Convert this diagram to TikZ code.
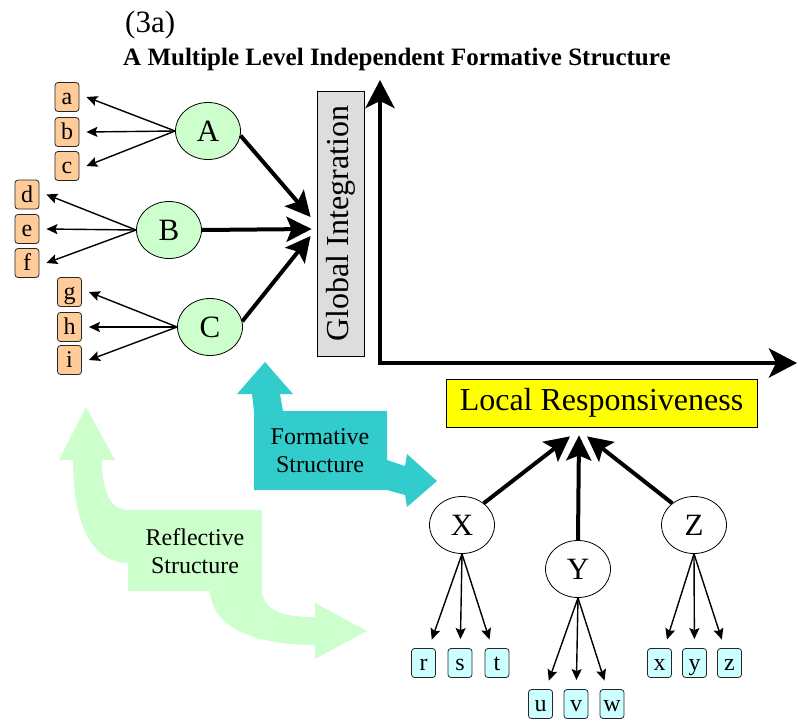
\documentclass[tikz,border=0pt]{standalone}
\usepackage{fontspec}
\setmainfont{Liberation Serif}
\usetikzlibrary{arrows.meta,shapes.geometric,calc}

\definecolor{peach}{HTML}{FFCC99}
\definecolor{paleCyan}{HTML}{CCFFFF}
\definecolor{mint}{HTML}{CCFFCC}
\definecolor{tealband}{HTML}{33CCCC}
\definecolor{panelgray}{HTML}{DDDDDD}
\definecolor{lemon}{HTML}{FFFF00}

\tikzset{
  fs/.style={font=\fontsize{#1}{#1}\selectfont},
  leafbox/.style={draw=black!85, line width=0.8pt, rounded corners=3pt,
    minimum width=24pt, minimum height=29pt, inner sep=0pt,
    text height=18pt, text depth=3pt, font=\fontsize{24}{24}\selectfont},
  upperleaf/.style={leafbox, fill=peach},
  lowerleaf/.style={leafbox, fill=paleCyan},
  factor/.style={ellipse, draw, line width=0.8pt, minimum width=65pt,
    minimum height=57pt, inner sep=0pt, font=\fontsize{31}{31}\selectfont},
  greenfactor/.style={factor, fill=mint},
  whitefactor/.style={factor, fill=white},
  thinarr/.style={line width=1.4pt, -{Stealth[length=11pt,width=10pt,inset=2pt]}},
  thickarr/.style={line width=4pt, -{Stealth[length=25pt,width=25pt,inset=5pt]}},
  axisline/.style={line width=4.5pt, line join=miter,
    {Stealth[length=28pt,width=29pt,inset=7pt]}-{Stealth[length=28pt,width=29pt,inset=7pt]}},
  bandtext/.style={align=center, font=\fontsize{24}{28}\selectfont}
}

\begin{document}
\begin{tikzpicture}[x=1pt,y=-1pt]
\useasboundingbox (0,0) rectangle (798,723);

% heading
\node[anchor=base west, inner sep=0pt, fs=31] (tag) at (125,32) {(3a)};
\node[anchor=base west, inner sep=0pt, font=\fontsize{25}{25}\selectfont\bfseries] (title) at (123,65) {A Multiple Level Independent Formative Structure};

% reflective structure band (pale green)
\fill[mint] (128,510) -- (262,510) -- (262,591)
  .. controls (264,612) and (285,617) .. (315,617) -- (315,603) -- (367,631)
  -- (315,659) -- (315,645) .. controls (255,645) and (212,628) .. (210,591)
  -- (128,591) -- (128,563) .. controls (95,563) and (73,530) .. (73,460)
  -- (59,460) -- (86,407) -- (115,460) -- (102,460)
  .. controls (102,495) and (112,510) .. (128,510) -- cycle;
\node[bandtext] (refl) at (195,551) {Reflective\\Structure};

% formative structure band (teal)
\fill[tealband] (254,411) -- (254,490) -- (387,490) -- (405,495) -- (407,507)
  -- (437,481) -- (407,454) -- (405,466) -- (387,460) -- (387,411) -- (283,411)
  -- (280,394) -- (293,394) -- (265,362) -- (237,394) -- (252,394) -- cycle;
\node[bandtext] (form) at (320,451) {Formative\\Structure};

% global integration panel
\node[draw, line width=0.8pt, fill=panelgray, minimum width=47pt, minimum height=265pt, inner sep=0pt] (G) at (340.5,223.5) {};
\node[rotate=90, inner sep=0pt, fs=32] (Glabel) at (G.center) {Global Integration};

% axes
\coordinate (O) at (380,363);
\coordinate (ytip) at (380,80);
\coordinate (xtip) at (797,363);
\draw[axisline] (ytip) -- (O) -- (xtip);

% local responsiveness panel
\node[draw, line width=0.8pt, fill=lemon, minimum width=311pt, minimum height=48pt, inner sep=0pt, fs=32] (LR) at (601.5,403) {Local Responsiveness};

% upper factors
\node[greenfactor] (A) at (208,131) {A};
\node[greenfactor] (B) at (169,230) {B};
\node[greenfactor] (C) at (210,327) {C};

% upper indicators
\node[upperleaf] (leaf-a) at (67,97) {a};
\node[upperleaf] (leaf-b) at (67,132) {b};
\node[upperleaf] (leaf-c) at (67,166) {c};
\node[upperleaf] (leaf-d) at (27,194.5) {d};
\node[upperleaf] (leaf-e) at (27,229) {e};
\node[upperleaf] (leaf-f) at (27,263) {f};
\node[upperleaf] (leaf-g) at (69.5,292) {g};
\node[upperleaf] (leaf-h) at (69.5,327) {h};
\node[upperleaf] (leaf-i) at (69.5,360) {i};

\foreach \p/\l in {A/a,A/b,A/c,B/d,B/e,B/f,C/g,C/h,C/i}
  \draw[thinarr] (\p.west) -- ([xshift=7pt]leaf-\l.east);

% factors into global integration
\draw[thickarr] (A.-8) -- ([shift={(-6,-6.5)}]G.west);
\draw[thickarr] (B.east) -- ([shift={(-5,5.5)}]G.west);
\draw[thickarr] (C.10) -- ([shift={(-6,12.5)}]G.west);

% lower factors
\node[whitefactor] (X) at (462,525) {X};
\node[whitefactor] (Y) at (578,569) {Y};
\node[whitefactor] (Z) at (694,525) {Z};

% lower indicators
\node[lowerleaf] (leaf-r) at (423.5,663) {r};
\node[lowerleaf] (leaf-s) at (460,663) {s};
\node[lowerleaf] (leaf-t) at (497,663) {t};
\node[lowerleaf] (leaf-u) at (540.5,704) {u};
\node[lowerleaf] (leaf-v) at (576,704) {v};
\node[lowerleaf] (leaf-w) at (612,704) {w};
\node[lowerleaf] (leaf-x) at (659.5,663) {x};
\node[lowerleaf] (leaf-y) at (694.5,663) {y};
\node[lowerleaf] (leaf-z) at (729.5,663) {z};

\foreach \p/\l in {X/r,X/s,X/t,Y/u,Y/v,Y/w,Z/x,Z/y,Z/z}
  \draw[thinarr, shorten >=9pt] (\p.south) -- (leaf-\l);

% factors into local responsiveness
\draw[thickarr] (X.45) -- ([shift={(-31.5,9)}]LR.south);
\draw[thickarr] (Y.north) -- ([shift={(-22.5,8)}]LR.south);
\draw[thickarr] (Z.135) -- ([shift={(-14.5,9)}]LR.south);
\end{tikzpicture}
\end{document}
